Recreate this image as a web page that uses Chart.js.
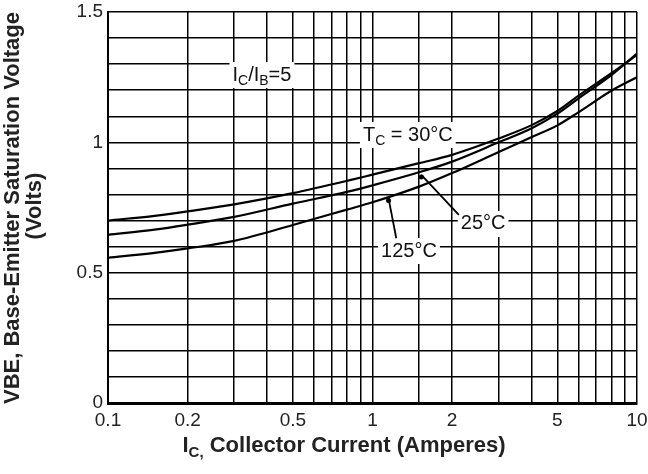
<!DOCTYPE html>
<html lang="en">
<head>
  <meta charset="UTF-8">
  <title>VBE Saturation Voltage</title>
  <script src="https://cdn.jsdelivr.net/npm/chart.js@4.4.0/dist/chart.umd.min.js"></script>
  <style>
    html, body { margin: 0; padding: 0; background: #fff; }
    #wrap { width: 648px; height: 474px; }
  </style>
</head>
<body>
  <div id="wrap"><canvas id="vbe-canvas" width="648" height="474"></canvas></div>

  <script>
    // Collector current (A) sample points
    const currents = [0.1, 0.15, 0.2, 0.3, 0.5, 0.8, 1, 1.5, 2, 3, 4, 5, 6, 8, 10];
    // VBE(sat) in volts for each case temperature
    const vbe30 = [0.70, 0.718, 0.735, 0.762, 0.805, 0.852, 0.876, 0.92, 0.952, 1.015, 1.066, 1.12, 1.178, 1.265, 1.335];
    const vbe25 = [0.645, 0.665, 0.684, 0.714, 0.765, 0.81, 0.835, 0.885, 0.926, 1.0, 1.054, 1.11, 1.168, 1.258, 1.34];
    const vbe125 = [0.557, 0.576, 0.593, 0.622, 0.683, 0.742, 0.77, 0.83, 0.882, 0.963, 1.02, 1.065, 1.115, 1.198, 1.25];

    // tick labels that are printed
    const xTickLabels = [0.1, 0.2, 0.5, 1, 2, 5, 10];
    const yTickLabels = [0, 0.5, 1, 1.5];

    const FONT = "'Liberation Sans', Arial, sans-serif";

    function toPoints(ys) {
      return currents.map((c, i) => ({ x: c, y: ys[i] }));
    }

    function lineSet(label, ys) {
      return {
        label: label,
        data: toPoints(ys),
        borderColor: '#000',
        borderWidth: 2.2,
        pointRadius: 0,
        fill: false,
        cubicInterpolationMode: 'monotone'
      };
    }

    // draw a run of text pieces, some of them subscripts
    function runWidth(ctx, parts, size, weight) {
      let w = 0;
      parts.forEach(p => {
        ctx.font = `${weight} ${p.sub ? Math.round(size * 0.7) : size}px ${FONT}`;
        w += ctx.measureText(p.t).width;
      });
      return w;
    }
    function drawRun(ctx, parts, x, y, size, weight) {
      ctx.textBaseline = 'middle';
      ctx.textAlign = 'left';
      parts.forEach(p => {
        ctx.font = `${weight} ${p.sub ? Math.round(size * 0.7) : size}px ${FONT}`;
        ctx.fillText(p.t, x, p.sub ? y + size * 0.3 : y);
        x += ctx.measureText(p.t).width;
      });
    }

    // annotations, anchored in data coordinates
    const notes = [
      { parts: [{ t: 'I' }, { t: 'C', sub: 1 }, { t: '/I' }, { t: 'B', sub: 1 }, { t: '=5' }], x: 0.382, y: 1.258 },
      { parts: [{ t: 'T' }, { t: 'C', sub: 1 }, { t: ' = 30°C' }], x: 1.36, y: 1.028 },
      { parts: [{ t: '25°C' }], x: 2.62, y: 0.687 },
      { parts: [{ t: '125°C' }], x: 1.374, y: 0.583 }
    ];
    const leaders = [
      { from: { x: 1.53, y: 0.875 }, to: { x: 2.12, y: 0.722 } },
      { from: { x: 1.15, y: 0.785 }, to: { x: 1.23, y: 0.632 } }
    ];

    const decorations = {
      id: 'decorations',
      beforeDatasetsDraw(chart) {
        const ctx = chart.ctx;
        const xs = chart.scales.x, ys = chart.scales.y;
        ctx.save();
        notes.forEach(n => {
          const w = runWidth(ctx, n.parts, 20, 'normal');
          const cx = xs.getPixelForValue(n.x), cy = ys.getPixelForValue(n.y);
          ctx.fillStyle = '#fff';
          ctx.fillRect(cx - w / 2 - 3, cy - 13, w + 6, 26);
          ctx.fillStyle = '#111';
          drawRun(ctx, n.parts, cx - w / 2, cy, 20, 'normal');
        });
        ctx.strokeStyle = '#000';
        ctx.lineWidth = 1.8;
        leaders.forEach(l => {
          const x1 = xs.getPixelForValue(l.from.x), y1 = ys.getPixelForValue(l.from.y);
          const x2 = xs.getPixelForValue(l.to.x), y2 = ys.getPixelForValue(l.to.y);
          ctx.beginPath();
          ctx.moveTo(x1, y1);
          ctx.lineTo(x2, y2);
          ctx.stroke();
          ctx.beginPath();
          ctx.arc(x1, y1 + 2, 2.5, 0, Math.PI * 2);
          ctx.fillStyle = '#000';
          ctx.fill();
        });
        ctx.restore();
      },
      afterDraw(chart) {
        const ctx = chart.ctx;
        ctx.save();
        ctx.fillStyle = '#222';
        // x axis title with subscript
        const xt = [{ t: 'I' }, { t: 'C,', sub: 1 }, { t: ' Collector Current (Amperes)' }];
        const w = runWidth(ctx, xt, 22, 'bold');
        drawRun(ctx, xt, 344 - w / 2, 446, 22, 'bold');
        // y axis title, two lines rotated
        ctx.rotate(-Math.PI / 2);
        ctx.font = `bold 22px ${FONT}`;
        ctx.textAlign = 'center';
        ctx.textBaseline = 'middle';
        ctx.fillText('VBE, Base-Emitter Saturation Voltage', -208, 13);
        ctx.fillText('(Volts)', -206, 35);
        ctx.restore();
      }
    };

    new Chart(document.getElementById('vbe-canvas'), {
      type: 'line',
      data: {
        datasets: [
          lineSet('30°C', vbe30),
          lineSet('25°C', vbe25),
          lineSet('125°C', vbe125)
        ]
      },
      options: {
        responsive: false,
        animation: false,
        layout: { padding: { left: 0, right: 11, top: 12, bottom: 0 } },
        plugins: { legend: { display: false }, tooltip: { enabled: false } },
        scales: {
          x: {
            type: 'logarithmic',
            min: 0.1,
            max: 10,
            grid: { color: '#000', lineWidth: 1.5, drawTicks: false },
            border: { color: '#000', width: 3 },
            ticks: {
              autoSkip: false,
              maxRotation: 0,
              padding: 6,
              color: '#222',
              font: { family: FONT, size: 19 },
              callback: v => xTickLabels.some(t => Math.abs(t - v) < 1e-9) ? String(v) : ''
            },
            afterFit(scale) {
              scale.height = 71;
              scale.paddingLeft = 0;
              scale.paddingRight = 0;
            }
          },
          y: {
            min: 0,
            max: 1.5,
            grid: { color: '#000', lineWidth: 1.5, drawTicks: false },
            border: { color: '#000', width: 2 },
            ticks: {
              stepSize: 0.1,
              padding: 5,
              color: '#222',
              font: { family: FONT, size: 19 },
              callback: v => {
                const r = Math.round(v * 10) / 10;
                return yTickLabels.includes(r) ? String(r) : '';
              }
            },
            afterFit(scale) {
              scale.width = 108;
              scale.paddingTop = 0;
              scale.paddingBottom = 0;
            }
          }
        }
      },
      plugins: [decorations]
    });
  </script>
</body>
</html>
